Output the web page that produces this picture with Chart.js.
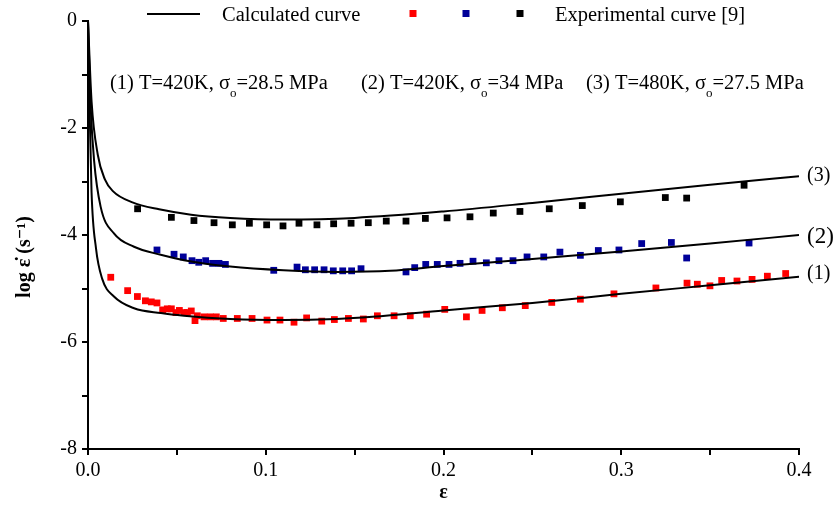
<!DOCTYPE html>
<html>
<head>
<meta charset="utf-8">
<script src="https://cdn.jsdelivr.net/npm/chart.js@4.4.1/dist/chart.umd.min.js"></script>
<style>
  html, body { margin: 0; padding: 0; background: #fff; }
  #wrap { width: 839px; height: 510px; position: relative; }
</style>
</head>
<body>
<div id="wrap"><canvas id="strainChart" width="839" height="510"></canvas></div>
<script>
// calculated curves
const curve1X = [0, 0.0008, 0.002, 0.0045, 0.008, 0.0146, 0.0259, 0.041, 0.054, 0.08, 0.11, 0.14, 0.16, 0.2, 0.25, 0.3, 0.35, 0.4];
const curve1Y = [0, -1.5, -3.2, -4.25, -4.82, -5.15, -5.37, -5.46, -5.51, -5.57, -5.59, -5.57, -5.53, -5.41, -5.27, -5.10, -4.94, -4.78];
const curve2X = [0, 0.0015, 0.0034, 0.0071, 0.0146, 0.0259, 0.0409, 0.054, 0.08, 0.11, 0.14, 0.17, 0.2, 0.25, 0.3, 0.35, 0.4];
const curve2Y = [0, -1.6, -2.6, -3.47, -3.97, -4.22, -4.37, -4.47, -4.59, -4.66, -4.69, -4.67, -4.58, -4.45, -4.31, -4.16, -4.00];
const curve3X = [0, 0.002, 0.0055, 0.0095, 0.014, 0.025, 0.04, 0.058, 0.08, 0.11, 0.15, 0.2, 0.25, 0.3, 0.35, 0.4];
const curve3Y = [0, -1.5, -2.5, -2.96, -3.18, -3.39, -3.52, -3.62, -3.68, -3.71, -3.68, -3.56, -3.40, -3.23, -3.06, -2.90];

// experimental points
const exp1X = [0.0128, 0.0223, 0.0278, 0.0323, 0.0356, 0.0388, 0.042, 0.0446, 0.0469, 0.0495, 0.0514, 0.054, 0.0559, 0.0581, 0.0602, 0.0615, 0.0653, 0.0688, 0.0722, 0.0761, 0.084, 0.0923, 0.1007, 0.108, 0.1159, 0.123, 0.1315, 0.1386, 0.1465, 0.1549, 0.1628, 0.1722, 0.1813, 0.1905, 0.2007, 0.2129, 0.2217, 0.2331, 0.246, 0.2609, 0.277, 0.2959, 0.3195, 0.337, 0.3428, 0.3499, 0.3565, 0.3651, 0.3736, 0.3822, 0.3925];
const exp1Y = [-4.79, -5.04, -5.15, -5.23, -5.25, -5.27, -5.40, -5.38, -5.38, -5.45, -5.41, -5.45, -5.45, -5.42, -5.60, -5.51, -5.53, -5.53, -5.53, -5.56, -5.56, -5.56, -5.59, -5.59, -5.63, -5.55, -5.61, -5.58, -5.56, -5.57, -5.51, -5.51, -5.51, -5.48, -5.39, -5.53, -5.41, -5.36, -5.32, -5.26, -5.20, -5.10, -4.99, -4.90, -4.92, -4.95, -4.85, -4.86, -4.83, -4.77, -4.72];
const exp2X = [0.0388, 0.0484, 0.0536, 0.0585, 0.0623, 0.0662, 0.0701, 0.0737, 0.0773, 0.1045, 0.1176, 0.1223, 0.1275, 0.1328, 0.138, 0.1433, 0.1483, 0.1536, 0.1789, 0.1838, 0.19, 0.1965, 0.2031, 0.2093, 0.2166, 0.2241, 0.2312, 0.2391, 0.247, 0.2564, 0.2655, 0.277, 0.2871, 0.2987, 0.3115, 0.3282, 0.3368, 0.3719];
const exp2Y = [-4.28, -4.36, -4.41, -4.48, -4.51, -4.48, -4.53, -4.53, -4.55, -4.66, -4.60, -4.65, -4.65, -4.65, -4.67, -4.67, -4.67, -4.63, -4.69, -4.61, -4.55, -4.55, -4.55, -4.53, -4.49, -4.52, -4.48, -4.48, -4.41, -4.41, -4.32, -4.38, -4.29, -4.28, -4.16, -4.14, -4.43, -4.15];
const exp3X = [0.0279, 0.0469, 0.0596, 0.0709, 0.0812, 0.0908, 0.1005, 0.1097, 0.1187, 0.1288, 0.1382, 0.148, 0.1577, 0.1678, 0.1789, 0.1898, 0.202, 0.2149, 0.228, 0.243, 0.2595, 0.2781, 0.2995, 0.3248, 0.3368, 0.3691];
const exp3Y = [-3.51, -3.67, -3.73, -3.77, -3.81, -3.78, -3.81, -3.83, -3.78, -3.81, -3.79, -3.78, -3.77, -3.74, -3.74, -3.69, -3.68, -3.66, -3.59, -3.56, -3.51, -3.45, -3.38, -3.30, -3.31, -3.07];

const curveNames = ["(1)", "(2)", "(3)"];
const conditions = [
    ["(1) T=420K, \u03C3", "=28.5 MPa"],
    ["(2) T=420K, \u03C3", "=34 MPa"],
    ["(3) T=480K, \u03C3", "=27.5 MPa"]
];

const RED = "#ff0000";
const BLUE = "#000099";
const BLACK = "#000000";
const SERIF = "'Liberation Serif', 'DejaVu Serif', serif";

function toPoints(xs, ys) {
    return xs.map((x, i) => ({ x: x, y: ys[i] }));
}

function curveSet(xs, ys) {
    return {
        data: toPoints(xs, ys),
        showLine: true,
        borderColor: BLACK,
        borderWidth: 2,
        pointRadius: 0,
        cubicInterpolationMode: "monotone",
        fill: false
    };
}

function pointSet(xs, ys, color) {
    return {
        data: toPoints(xs, ys),
        showLine: false,
        pointStyle: "rect",
        pointRadius: 4.8,
        backgroundColor: color,
        borderColor: color,
        borderWidth: 0
    };
}

// text, legend and axis titles drawn on top
const decorations = {
    id: "decorations",
    afterDraw(chart) {
        const ctx = chart.ctx;
        const xs = chart.scales.x;
        const ys = chart.scales.y;
        ctx.save();
        ctx.fillStyle = BLACK;
        ctx.textBaseline = "alphabetic";

        // legend
        ctx.strokeStyle = BLACK;
        ctx.lineWidth = 2;
        ctx.beginPath();
        ctx.moveTo(147, 14);
        ctx.lineTo(200, 14);
        ctx.stroke();
        ctx.font = "20.5px " + SERIF;
        ctx.fillText("Calculated curve", 222, 21);
        [[413, RED], [466, BLUE], [520, BLACK]].forEach(([cx, c]) => {
            ctx.fillStyle = c;
            ctx.fillRect(cx - 3.5, 10, 7, 7);
        });
        ctx.fillStyle = BLACK;
        ctx.fillText("Experimental curve [9]", 555, 21);

        // conditions with subscript o
        const starts = [110, 361, 586];
        conditions.forEach((parts, i) => {
            let x = starts[i];
            ctx.font = "20.5px " + SERIF;
            ctx.fillText(parts[0], x, 89);
            x += ctx.measureText(parts[0]).width;
            ctx.font = "13px " + SERIF;
            ctx.fillText("o", x, 97);
            x += ctx.measureText("o").width;
            ctx.font = "20.5px " + SERIF;
            ctx.fillText(parts[1], x, 89);
        });

        // curve labels at right end
        const ends = [curve1Y[curve1Y.length - 1], curve2Y[curve2Y.length - 1], curve3Y[curve3Y.length - 1]];
        const sizes = [20, 23, 20];
        const dy = [-3, 2, 0];
        ctx.textBaseline = "middle";
        ends.forEach((v, i) => {
            ctx.font = sizes[i] + "px " + SERIF;
            ctx.fillText(curveNames[i], xs.getPixelForValue(0.4) + 8, ys.getPixelForValue(v) + dy[i]);
        });

        // axis titles
        ctx.font = "bold 20px " + SERIF;
        ctx.textAlign = "center";
        ctx.fillText("\u03B5", (xs.left + xs.right) / 2, 493);
        ctx.translate(25, 257);
        ctx.rotate(-Math.PI / 2);
        ctx.fillText("log \u03B5\u0307 (s\u207B\u00B9)", 0, 0);
        ctx.restore();
    }
};

new Chart(document.getElementById("strainChart"), {
    type: "scatter",
    data: {
        datasets: [
            curveSet(curve1X, curve1Y),
            curveSet(curve2X, curve2Y),
            curveSet(curve3X, curve3Y),
            pointSet(exp1X, exp1Y, RED),
            pointSet(exp2X, exp2Y, BLUE),
            pointSet(exp3X, exp3Y, BLACK)
        ]
    },
    options: {
        responsive: false,
        animation: false,
        layout: { padding: { top: 21, right: 40, left: 0, bottom: 0 } },
        plugins: { legend: { display: false }, tooltip: { enabled: false } },
        scales: {
            x: {
                type: "linear",
                min: 0,
                max: 0.4,
                afterFit(scale) { scale.height = 61; },
                border: { color: BLACK, width: 2 },
                grid: { drawOnChartArea: false, color: BLACK, lineWidth: 2, tickLength: 6 },
                ticks: {
                    stepSize: 0.05,
                    color: BLACK,
                    font: { family: SERIF, size: 20 },
                    padding: 4,
                    maxRotation: 0,
                    callback: (v) => (Math.abs(v * 10 - Math.round(v * 10)) < 1e-6 ? v.toFixed(1) : "")
                }
            },
            y: {
                type: "linear",
                min: -8,
                max: 0,
                afterFit(scale) { scale.width = 88; },
                border: { color: BLACK, width: 2 },
                grid: { drawOnChartArea: false, color: BLACK, lineWidth: 2, tickLength: 6 },
                ticks: {
                    stepSize: 1,
                    color: BLACK,
                    font: { family: SERIF, size: 20 },
                    padding: 5,
                    callback: (v) => (v % 2 === 0 ? String(v) : "")
                }
            }
        }
    },
    plugins: [decorations]
});
</script>
</body>
</html>
